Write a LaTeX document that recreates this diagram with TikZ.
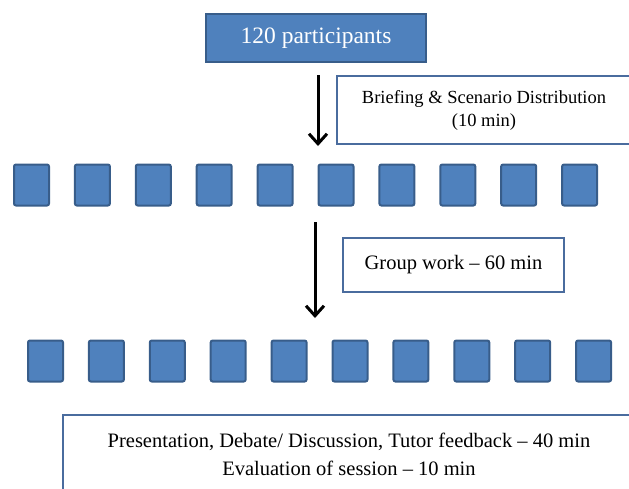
\documentclass[tikz,border=0pt]{standalone}
\usepackage{fontspec}
\setmainfont{Liberation Serif}
\usetikzlibrary{shapes,arrows,arrows.meta,positioning}
\definecolor{boxblue}{HTML}{4F81BD}
\definecolor{edgeblue}{HTML}{385D8A}
\definecolor{frameblue}{HTML}{4A6C9E}

\begin{document}
\begin{tikzpicture}[x=1pt,y=-1pt,% one unit is one pixel of the reference, y runs down
			every node/.style={
				align=center,  		% so that "\\" breaks the line
				inner sep=0pt
			},
			bluebox/.style={rectangle,draw=edgeblue,fill=boxblue,line width=2pt},
			groupbox/.style={rectangle,rounded corners=2pt,draw=edgeblue,fill=boxblue,line width=2pt,minimum width=35pt,minimum height=41pt},
			notebox/.style={rectangle,draw=frameblue,fill=white,line width=2.5pt},
			every edge/.style={draw,line width=3pt,-{Straight Barb[length=10pt,width=18pt]}}
		]
		\useasboundingbox (0,0) rectangle (629,488);
		\clip (0,0) rectangle (629,488);
		\node[bluebox,minimum width=220pt,minimum height=48pt,text=white,font=\fontsize{23.5}{27}\selectfont](Part) at (316,38){120 participants};
		\node[notebox,minimum width=294pt,minimum height=68pt,font=\fontsize{18.5}{23}\selectfont](Brief) at (484,110){Briefing \& Scenario Distribution\\(10 min)};
		\node[notebox,minimum width=221pt,minimum height=54pt,font=\fontsize{20.5}{24}\selectfont](Group) at (453.5,265){Group work -- 60 min};
		\node[notebox,minimum width=572pt,minimum height=78pt,font=\fontsize{20.5}{28}\selectfont](Pres) at (349,454){Presentation, Debate/ Discussion, Tutor feedback -- 40 min\\Evaluation of session -- 10 min};
		% the two rows of groups
		\foreach \i in {0,...,9}{
			\node[groupbox](S1-\i) at (31.5+60.9*\i,185){};
			\node[groupbox](S2-\i) at (45.5+60.9*\i,361){};
		}
		\coordinate (A1) at (318,75);
		\coordinate (A2) at (318,146);
		\coordinate (A3) at (315,222);
		\coordinate (A4) at (315,318);
		\path
		(A1)edge []	node [] {} (A2)
		(A3)edge []	node [] {} (A4)
		;
	\end{tikzpicture}
\end{document}
